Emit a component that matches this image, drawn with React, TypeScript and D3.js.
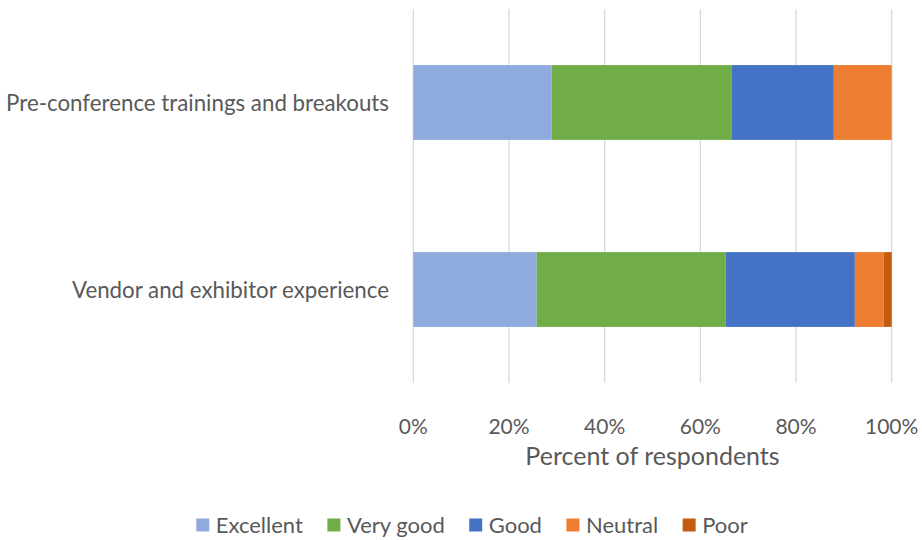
import React, { useEffect, useRef } from "react";
import * as d3 from "d3";

const categories = ["Pre-conference trainings and breakouts", "Vendor and exhibitor experience"];
const seriesNames = ["Excellent", "Very good", "Good", "Neutral", "Poor"];
const seriesColors = ["#8FAADC", "#70AD47", "#4472C4", "#ED7D31", "#C55A11"];
const excellent = [28.9, 25.8];
const veryGood = [37.7, 39.5];
const good = [21.3, 27.0];
const neutral = [12.1, 6.0];
const poor = [0.0, 1.7];
const tickValues = [0, 20, 40, 60, 80, 100];
const axisTitle = "Percent of respondents";

const W = 922;
const H = 540;
const FONT = "Lato, 'Open Sans', sans-serif";
const TEXT = "#595959";

export default function App() {
  const ref = useRef<SVGSVGElement>(null);

  useEffect(() => {
    const svg = d3.select(ref.current);
    svg.selectAll("*").remove();

    const margin = { left: 413.3, right: W - 891.7, top: 9, bottom: H - 383 };
    const x = d3.scaleLinear().domain([0, 100]).range([margin.left, W - margin.right]);
    const y = d3.scaleBand().domain(categories).range([margin.top, H - margin.bottom]).paddingInner(0.6).paddingOuter(0.3);

    const rows = categories.map((c, i) => ({
      cat: c,
      Excellent: excellent[i],
      "Very good": veryGood[i],
      Good: good[i],
      Neutral: neutral[i],
      Poor: poor[i],
    }));
    const stacked = d3.stack<any>().keys(seriesNames)(rows);

    // gridlines
    svg.append("g")
      .selectAll("line")
      .data(tickValues)
      .join("line")
      .attr("x1", (d) => x(d))
      .attr("x2", (d) => x(d))
      .attr("y1", margin.top)
      .attr("y2", H - margin.bottom)
      .attr("stroke", "#D9D9D9")
      .attr("stroke-width", 1.3);

    // bars
    const g = svg.append("g");
    stacked.forEach((s, si) => {
      g.append("g")
        .attr("fill", seriesColors[si])
        .selectAll("rect")
        .data(s)
        .join("rect")
        .attr("x", (d) => x(d[0]))
        .attr("width", (d) => Math.max(0, x(d[1]) - x(d[0])))
        .attr("y", (d: any) => y(d.data.cat)!)
        .attr("height", y.bandwidth());
    });

    // category labels
    svg.append("g")
      .selectAll("text")
      .data(categories)
      .join("text")
      .attr("x", 389)
      .attr("y", (d) => y(d)! + y.bandwidth() / 2 + 8)
      .attr("text-anchor", "end")
      .attr("font-family", FONT)
      .attr("font-size", 22.3)
      .attr("fill", TEXT)
      .text((d) => d);

    // tick labels
    svg.append("g")
      .selectAll("text")
      .data(tickValues)
      .join("text")
      .attr("x", (d) => x(d))
      .attr("y", 433.5)
      .attr("text-anchor", "middle")
      .attr("font-family", FONT)
      .attr("font-size", 21)
      .attr("fill", TEXT)
      .text((d) => d + "%");

    // axis title
    svg.append("text")
      .attr("x", (x(0) + x(100)) / 2)
      .attr("y", 465)
      .attr("text-anchor", "middle")
      .attr("font-family", FONT)
      .attr("font-size", 25)
      .attr("fill", TEXT)
      .text(axisTitle);

    // legend
    const leg = svg.append("g");
    const items = leg.selectAll("g").data(seriesNames).join("g");
    items.append("rect")
      .attr("width", 13)
      .attr("height", 13)
      .attr("y", 518.5)
      .attr("fill", (_, i) => seriesColors[i]);
    items.append("text")
      .attr("x", 19.5)
      .attr("y", 532.5)
      .attr("font-family", FONT)
      .attr("font-size", 22)
      .attr("fill", TEXT)
      .text((d) => d);
    const widths: number[] = [];
    items.each(function () {
      const t = d3.select(this).select("text").node() as SVGTextElement;
      widths.push(19.5 + t.getComputedTextLength());
    });
    const gap = 24.5;
    const total = d3.sum(widths) + gap * (widths.length - 1);
    let cx = 472 - total / 2;
    items.attr("transform", (_, i) => {
      const tx = cx;
      cx += widths[i] + gap;
      return `translate(${tx},0)`;
    });
  }, []);

  return (
    <svg
      ref={ref}
      width={W}
      height={H}
      style={{ display: "block", background: "#fff", position: "absolute", left: 0, top: 0 }}
    />
  );
}
